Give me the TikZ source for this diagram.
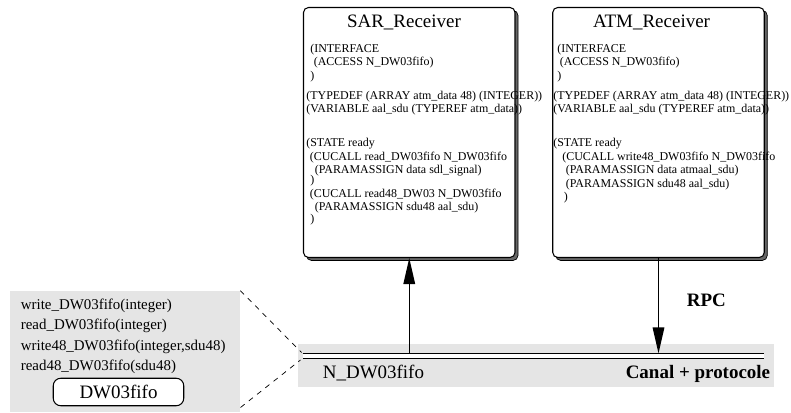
\documentclass[tikz,border=0pt]{standalone}
\usepackage{fontspec}
\setmainfont{Liberation Serif}
\usetikzlibrary{arrows.meta,shadows}

\begin{document}
\begin{tikzpicture}[
  recv/.style={draw, fill=white, line width=0.6pt, rounded corners=0.1cm,
    minimum width=4.23cm, minimum height=5cm,
    copy shadow={shadow xshift=0.06cm, shadow yshift=-0.06cm, fill=black!60, draw=black, line width=0.4pt}},
  boxtext/.style={anchor=north west, inner sep=0pt, align=left, font=\fontsize{6.8}{7.65}\selectfont},
  heading/.style={anchor=base, inner sep=0pt, font=\fontsize{10.8}{13}\selectfont},
  buslabel/.style={inner sep=0pt, font=\fontsize{10.8}{13}\selectfont},
  greyzone/.style={fill=black!10, inner sep=0pt},
  rpcarrow/.style={line width=0.85pt, -{Triangle[length=0.52cm,width=0.23cm]}}
]
\useasboundingbox (0,0) rectangle (15.82,8.26);

% interface du canal
\node[greyzone, minimum width=4.6cm, minimum height=2.43cm] (panel) at (2.50,1.225) {};
\node[anchor=north west, inner sep=0pt, align=left, font=\fontsize{8.5}{11.6}\selectfont] (methods) at (0.41,2.29)
  {write\_DW03fifo(integer)\\ read\_DW03fifo(integer)\\ write48\_DW03fifo(integer,sdu48)\\ read48\_DW03fifo(sdu48)};
\node[draw, fill=white, rounded corners=0.15cm, line width=0.6pt, minimum width=2.61cm, minimum height=0.55cm,
  inner sep=0pt, font=\fontsize{10.8}{13}\selectfont] (fifo) at (2.37,0.42) {DW03fifo};

% canal
\node[greyzone, minimum width=9.53cm, minimum height=0.87cm] (canal) at (10.715,0.945) {};
\coordinate (busL) at (6.05,1.14);
\coordinate (busR) at (15.27,1.14);
\coordinate (busT) at (6.05,1.19);
\draw[line width=0.85pt, double distance=2pt] (busL) -- (busR);
\node[buslabel, anchor=base west] (nfifo) at (6.45,0.69) {N\_DW03fifo};
\node[buslabel, anchor=base east] (protocole) at (15.41,0.69) {\textbf{Canal + protocole}};

\coordinate (zoomT) at (6.03,1.21);
\coordinate (zoomB) at (6.01,1.06);
\coordinate (panelB) at (4.81,0.11);
\draw[dashed, dash pattern=on 3pt off 3pt, line width=0.4pt] (panel.north east) -- (zoomT);
\draw[dashed, dash pattern=on 3pt off 3pt, line width=0.4pt] (panelB) -- (zoomB);

% modules
\node[recv] (sar) at (8.185,5.61) {};
\node[recv] (atm) at (13.17,5.61) {};
\node[heading] (sartitle) at (8.08,7.70) {SAR\_Receiver};
\node[heading] (atmtitle) at (13.03,7.70) {ATM\_Receiver};

\node[boxtext] (sarcode) at (6.12,7.39) {%
\hspace*{0.08cm}(INTERFACE\\
\hspace*{0.15cm}(ACCESS N\_DW03fifo)\\
\hspace*{0.08cm})\\[4pt]
(TYPEDEF (ARRAY atm\_data 48) (INTEGER))\\
(VARIABLE aal\_sdu (TYPEREF atm\_data))\\[11.6pt]
(STATE ready\\
\hspace*{0.07cm}(CUCALL read\_DW03fifo N\_DW03fifo\\
\hspace*{0.17cm}(PARAMASSIGN data sdl\_signal)\\[-2pt]
\hspace*{0.08cm})\\
\hspace*{0.07cm}(CUCALL read48\_DW03 N\_DW03fifo\\
\hspace*{0.17cm}(PARAMASSIGN sdu48 aal\_sdu)\\[-1pt]
\hspace*{0.08cm})};

\node[boxtext] (atmcode) at (11.06,7.39) {%
\hspace*{0.08cm}(INTERFACE\\
\hspace*{0.13cm}(ACCESS N\_DW03fifo)\\
\hspace*{0.08cm})\\[4pt]
(TYPEDEF (ARRAY atm\_data 48) (INTEGER))\\
(VARIABLE aal\_sdu (TYPEREF atm\_data))\\[11.6pt]
(STATE ready\\
\hspace*{0.18cm}(CUCALL write48\_DW03fifo N\_DW03fifo\\
\hspace*{0.25cm}(PARAMASSIGN data atmaal\_sdu)\\
\hspace*{0.25cm}(PARAMASSIGN sdu48 aal\_sdu)\\
\hspace*{0.21cm})};

% appels
\draw[rpcarrow] (sar.south |- busT) -- (sar.south);
\draw[rpcarrow] (atm.south) -- (atm.south |- busT);
\node[buslabel, anchor=base west] (rpc) at (13.73,2.13) {\textbf{RPC}};
\end{tikzpicture}
\end{document}
